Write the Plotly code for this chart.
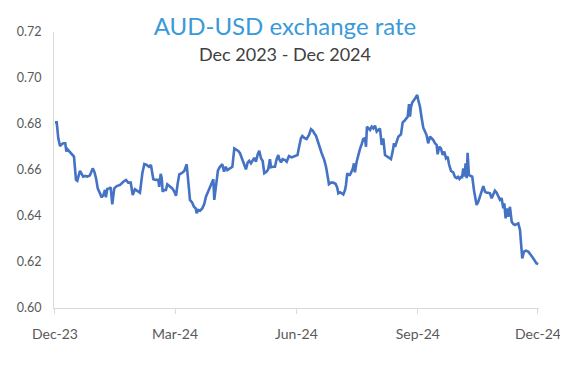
import pandas as pd
import plotly.graph_objects as go

# ---- data ----
start_date = "2023-12-29"
day_offset = [
    0.0, 1.3, 2.5, 3.8, 5.1, 6.3, 7.8, 8.6, 9.3, 10.8, 12.7, 14.4, 15.9, 16.9, 18.9, 20.5, 21.4, 23.0, 24.5, 26.5,
    28.6, 29.8, 31.1, 32.4, 33.6, 35.4, 36.6, 37.9, 38.6, 39.6, 41.1, 42.2, 43.4, 44.9, 46.8, 49.3, 51.8, 53.8, 55.5, 57.4,
    58.9, 60.6, 62.4, 64.4, 66.2, 67.7, 69.5, 71.2, 72.7, 74.5, 76.5, 78.3, 79.0, 80.1, 80.9, 81.6, 82.8, 84.1, 85.1, 87.1,
    88.9, 90.4, 91.7, 93.0, 94.2, 96.0, 98.0, 99.8, 101.0, 102.3, 104.0, 105.3, 106.6, 107.4, 108.6, 109.9, 111.6, 113.1, 114.4, 116.2,
    117.5, 119.2, 120.0, 120.7, 122.4, 123.5, 125.0, 126.8, 128.1, 129.4, 130.6, 132.6, 134.4, 135.9, 137.2, 138.9, 140.2, 141.5, 143.5, 144.7,
    146.0, 147.2, 148.5, 149.8, 151.0, 152.3, 153.6, 154.8, 156.1, 157.4, 158.6, 160.4, 161.6, 162.9, 163.7, 165.4, 166.7, 168.0, 169.2, 170.0,
    171.3, 172.5, 174.3, 175.6, 177.3, 179.4, 181.1, 182.4, 183.8, 184.9, 186.4, 187.4, 188.9, 190.7, 192.5, 194.0, 195.3, 196.5, 197.8, 199.1,
    200.8, 202.1, 204.1, 205.4, 206.7, 207.6, 209.2, 210.9, 212.7, 213.9, 214.7, 216.0, 217.3, 218.5, 219.8, 220.5, 221.5, 222.3, 223.5, 224.8,
    225.6, 226.6, 227.3, 228.6, 229.8, 231.1, 232.4, 233.6, 234.9, 235.7, 236.4, 237.4, 238.7, 240.0, 241.2, 242.5, 243.8, 245.0, 246.3, 247.6,
    248.8, 250.1, 252.1, 253.9, 254.6, 255.9, 256.9, 257.7, 258.9, 260.2, 262.2, 263.5, 264.7, 266.0, 267.3, 268.3, 269.0, 269.8, 270.8, 272.1,
    273.3, 274.5, 275.3, 276.6, 277.9, 279.1, 280.4, 281.6, 282.8, 284.2, 285.4, 286.7, 288.0, 289.2, 290.0, 291.2, 292.5, 293.8, 295.0, 296.3,
    297.6, 298.6, 300.1, 301.8, 303.1, 304.3, 305.4, 306.5, 307.7, 308.4, 309.4, 310.2, 311.2, 312.0, 312.7, 313.7, 315.2, 316.2, 317.5, 318.8,
    319.5, 320.8, 322.1, 323.3, 324.6, 325.9, 327.1, 328.3, 329.6, 330.9, 332.1, 333.4, 334.7, 335.9, 337.2, 338.5, 339.7, 340.5, 341.5, 342.5,
    343.5, 344.8, 346.1, 347.3, 348.6, 349.9, 351.1, 352.4, 353.1, 354.1, 355.4, 356.9, 358.7, 359.9, 361.2, 362.4, 363.7, 364.9, 366.2,
]
aud_usd = [
    0.6807, 0.6807, 0.6738, 0.6704, 0.6712, 0.6716, 0.6716, 0.6680, 0.6691, 0.6680, 0.6670, 0.6658, 0.6557, 0.6553, 0.6596, 0.6578, 0.6571, 0.6574, 0.6571, 0.6577,
    0.6607, 0.6593, 0.6564, 0.6520, 0.6506, 0.6481, 0.6491, 0.6513, 0.6481, 0.6517, 0.6520, 0.6525, 0.6451, 0.6520, 0.6530, 0.6535, 0.6549, 0.6557, 0.6545, 0.6545,
    0.6491, 0.6516, 0.6509, 0.6501, 0.6586, 0.6626, 0.6622, 0.6614, 0.6622, 0.6560, 0.6557, 0.6557, 0.6527, 0.6583, 0.6564, 0.6506, 0.6513, 0.6513, 0.6538, 0.6527,
    0.6520, 0.6506, 0.6488, 0.6542, 0.6581, 0.6586, 0.6596, 0.6625, 0.6549, 0.6470, 0.6458, 0.6440, 0.6433, 0.6412, 0.6426, 0.6423, 0.6433, 0.6452, 0.6484, 0.6506,
    0.6525, 0.6549, 0.6560, 0.6470, 0.6557, 0.6598, 0.6614, 0.6625, 0.6593, 0.6614, 0.6600, 0.6607, 0.6614, 0.6694, 0.6690, 0.6683, 0.6673, 0.6651, 0.6614, 0.6603,
    0.6632, 0.6640, 0.6629, 0.6643, 0.6653, 0.6636, 0.6668, 0.6683, 0.6651, 0.6639, 0.6586, 0.6593, 0.6603, 0.6647, 0.6612, 0.6614, 0.6614, 0.6647, 0.6665, 0.6647,
    0.6633, 0.6647, 0.6643, 0.6636, 0.6661, 0.6655, 0.6658, 0.6661, 0.6665, 0.6698, 0.6738, 0.6748, 0.6740, 0.6735, 0.6752, 0.6777, 0.6771, 0.6760, 0.6749, 0.6726,
    0.6701, 0.6673, 0.6643, 0.6614, 0.6571, 0.6538, 0.6545, 0.6545, 0.6539, 0.6523, 0.6499, 0.6503, 0.6499, 0.6494, 0.6513, 0.6535, 0.6586, 0.6578, 0.6578, 0.6593,
    0.6604, 0.6629, 0.6590, 0.6636, 0.6665, 0.6691, 0.6712, 0.6735, 0.6738, 0.6701, 0.6788, 0.6781, 0.6774, 0.6788, 0.6781, 0.6793, 0.6767, 0.6774, 0.6780, 0.6709,
    0.6738, 0.6665, 0.6658, 0.6651, 0.6647, 0.6680, 0.6716, 0.6701, 0.6723, 0.6745, 0.6755, 0.6807, 0.6813, 0.6825, 0.6832, 0.6886, 0.6832, 0.6875, 0.6894, 0.6904,
    0.6914, 0.6926, 0.6904, 0.6875, 0.6825, 0.6784, 0.6767, 0.6752, 0.6716, 0.6745, 0.6738, 0.6730, 0.6716, 0.6709, 0.6668, 0.6701, 0.6694, 0.6665, 0.6680, 0.6651,
    0.6658, 0.6625, 0.6596, 0.6590, 0.6570, 0.6565, 0.6570, 0.6561, 0.6572, 0.6564, 0.6607, 0.6571, 0.6629, 0.6564, 0.6675, 0.6578, 0.6574, 0.6571, 0.6513, 0.6470,
    0.6448, 0.6462, 0.6484, 0.6506, 0.6530, 0.6506, 0.6501, 0.6501, 0.6499, 0.6477, 0.6491, 0.6510, 0.6501, 0.6484, 0.6470, 0.6477, 0.6433, 0.6455, 0.6390, 0.6433,
    0.6397, 0.6440, 0.6375, 0.6365, 0.6361, 0.6365, 0.6368, 0.6339, 0.6267, 0.6216, 0.6245, 0.6249, 0.6245, 0.6238, 0.6226, 0.6216, 0.6204, 0.6194, 0.6191,
]
tick_dates = ["2023-12-29", "2024-03-29", "2024-06-29", "2024-09-29", "2024-12-29"]
tick_labels = ["Dec-23", "Mar-24", "Jun-24", "Sep-24", "Dec-24"]
y_ticks = [0.60, 0.62, 0.64, 0.66, 0.68, 0.70, 0.72]

title_text = "AUD-USD exchange rate"
subtitle_text = "Dec 2023 - Dec 2024"

base = pd.Timestamp(start_date)
dates = base + pd.to_timedelta(day_offset, unit="D")

FONT = "Lato"
# the page body adds an 8px margin, so the figure is 8px smaller each way
W, H = 560, 359
fig = go.Figure()
fig.add_trace(go.Scatter(
    x=dates, y=aud_usd, mode="lines",
    line=dict(color="#4472C4", width=2.6),
    hoverinfo="skip", showlegend=False,
))

fig.update_layout(
    width=W, height=H,
    margin=dict(l=46, r=29, t=24, b=59, autoexpand=False),
    paper_bgcolor="white", plot_bgcolor="white",
    font=dict(family=FONT, color="#595959", size=14),
    title=dict(text=title_text, x=277 / W, xref="container", xanchor="center",
               y=1 - 19 / H, yref="container", yanchor="middle",
               font=dict(family=FONT, size=24, color="#3A9AD9")),
    annotations=[dict(text=subtitle_text, xref="paper", yref="paper",
                      x=(277 - 46) / 485, y=(300 - 46) / 276,
                      xanchor="center", yanchor="middle", showarrow=False,
                      font=dict(family=FONT, size=18, color="#404040"))],
)
fig.update_xaxes(
    type="date",
    range=[base - pd.Timedelta(hours=18), base + pd.Timedelta(days=366.8)],
    tickvals=pd.to_datetime(tick_dates), ticktext=tick_labels,
    showgrid=False, zeroline=False,
    showline=True, linecolor="#D9D9D9", linewidth=1,
    ticks="outside", ticklen=5, tickcolor="#D9D9D9",
    ticklabelstandoff=8,
    tickfont=dict(size=14, color="#595959"),
)
fig.update_yaxes(
    range=[0.60, 0.72], tickvals=y_ticks, tickformat=".2f",
    showgrid=False, zeroline=False,
    showline=True, linecolor="#D9D9D9", linewidth=1,
    ticks="", ticklabelstandoff=9,
    tickfont=dict(size=12.5, color="#595959"),
)

fig.write_html("out.html")
